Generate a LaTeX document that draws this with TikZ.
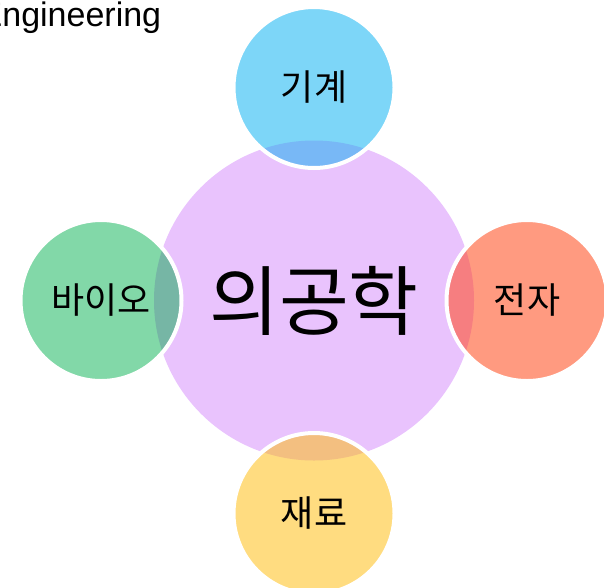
\documentclass[tikz,border=0pt]{standalone}
\usepackage{fontspec}
\setmainfont{Liberation Sans}
\newfontfamily\kr{Noto Sans CJK KR}
\definecolor{purp}{HTML}{E9C3FD}
\definecolor{cblue}{HTML}{7DD6F8}
\definecolor{cblueb}{HTML}{78B8F6}
\definecolor{cgreen}{HTML}{82D8A8}
\definecolor{cgreenb}{HTML}{76B6A5}
\definecolor{csalmon}{HTML}{FF9A80}
\definecolor{csalmonb}{HTML}{F67E80}
\definecolor{cyellow}{HTML}{FFDC80}
\definecolor{cyellowb}{HTML}{F3BF80}
\begin{document}
\begin{tikzpicture}[x=1pt,y=-1pt,
  lbl/.style={font=\kr\fontsize{36}{42}\selectfont, text=black, inner sep=0pt},
  ring/.style={draw=white, line width=4pt}]
\useasboundingbox (0,0) rectangle (604,587);
\coordinate (C) at (314,300.5);
\coordinate (T) at (314,87.5);
\coordinate (L) at (101,300.5);
\coordinate (R) at (527,300.5);
\coordinate (B) at (314,513.5);
\fill[purp] (C) circle[radius=160pt];
\foreach \p/\c in {T/cblue, L/cgreen, R/csalmon, B/cyellow}{
  \fill[\c] (\p) circle[radius=80.5pt];
  \begin{scope}
    \clip (C) circle[radius=160pt];
    \fill[\c b] (\p) circle[radius=80.5pt];
  \end{scope}
  \draw[ring] (\p) circle[radius=80.5pt];
}
\node[lbl, font=\kr\fontsize{76}{86}\selectfont] (tC) at (C) {의공학};
\node[lbl] (tT) at (T) {기계};
\node[lbl] (tL) at (L) {바이오};
\node[lbl] (tR) at (R) {전자};
\node[lbl] (tB) at (B) {재료};
\node[anchor=base west, inner sep=0pt, font=\fontsize{34}{41}\selectfont] (eng) at (-20.5,26) {Engineering};
\end{tikzpicture}
\end{document}
